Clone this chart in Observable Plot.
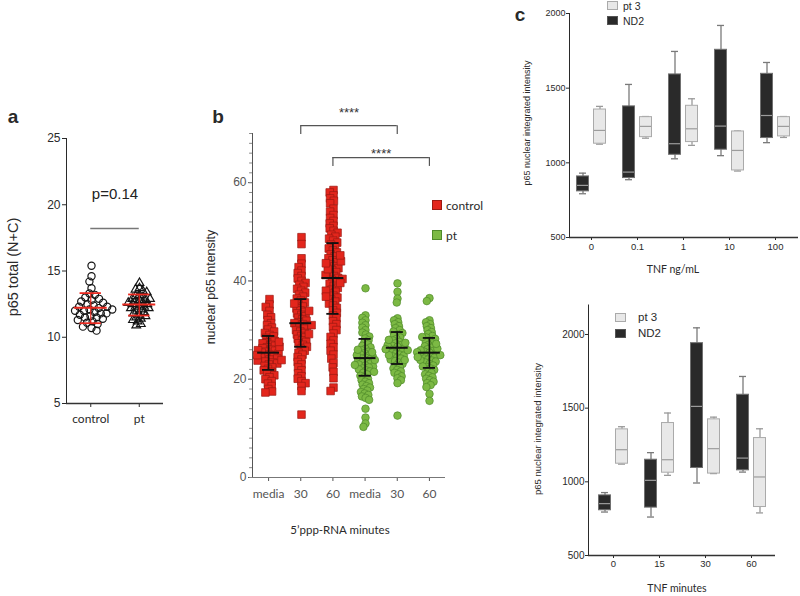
<!DOCTYPE html>
<html>
<head>
<meta charset="utf-8">
<script src="https://cdn.jsdelivr.net/npm/d3@7"></script>
<script src="https://cdn.jsdelivr.net/npm/@observablehq/plot@0.6"></script>
<style>
  html, body { margin: 0; padding: 0; background: #fff; overflow: hidden; }
  #fig { position: relative; width: 800px; height: 596px; overflow: hidden; background: #fff; }
  #fig svg { position: absolute; left: 0; top: 0; }
  .lbl { position: absolute; white-space: nowrap; line-height: 1; color: #2a2a2a;
         font-family: 'Liberation Sans', Arial, sans-serif; transform: translate(-50%, -50%); }
  .lbl.rot { transform: translate(-50%, -50%) rotate(-90deg); }
  .lbl.left { transform: translate(0, -50%); }
  .sw { position: absolute; box-sizing: border-box; }
  svg.cal g[aria-label^="x-axis"] text { font-family: Lato, 'Open Sans', sans-serif; }
  svg.cx g[aria-label^="x-axis"] text { font-size: 9.5px; }
</style>
</head>
<body>
<div id="fig"></div>
<script>
// ================= DATA =================
// Panel a
const aGroups = ["control", "pt"];
const aControl = [15.4, 14.6, 14.2, 13.7, 13.3, 13.2, 13.0, 12.9, 12.8, 12.7, 12.6, 12.5, 12.4, 12.3, 12.3, 12.2, 12.1, 12.0, 12.0, 11.9, 11.8, 11.8, 11.7, 11.6, 11.5, 11.5, 11.4, 11.3, 11.2, 11.1, 11.0, 10.8, 10.7, 10.5, 12.1];
const aPt = [14.1, 13.7, 13.6, 13.5, 13.4, 13.2, 13.1, 13.0, 12.9, 12.8, 12.8, 12.7, 12.6, 12.5, 12.5, 12.4, 12.3, 12.3, 12.2, 12.1, 12.0, 11.9, 11.8, 11.7, 11.6, 11.5, 11.4, 11.3, 11.2, 11.0, 10.9, 12.6, 12.9, 12.2];
const aMean = [12.22, 12.47];
const aSdLow = [11.06, 11.64];
const aSdHigh = [13.33, 13.23];
const aYDomain = [5, 25];
const aYTicks = [5, 10, 15, 20, 25];
const aPLabel = ["p=0.14"];
const aPLineY = [18.2];
const aPTextY = [20.8];

// Panel b
const bGroups = ["c-media", "c-30", "c-60", "p-media", "p-30", "p-60"];
const bLabels = ["media", "30", "60", "media", "30", "60"];
const bSeries = ["control", "control", "control", "pt", "pt", "pt"];
const bCMedia = [36.3, 35.2, 34.7, 33.9, 33.1, 32.6, 32.0, 31.4, 31.0, 30.5, 30.1, 29.7, 29.4, 29.0, 28.7, 28.4, 28.1, 27.8, 27.5, 27.3, 27.0, 26.8, 26.5, 26.3, 26.0, 25.8, 25.6, 25.4, 25.2, 25.0, 24.8, 24.6, 24.4, 24.2, 24.0, 23.8, 23.6, 23.4, 23.2, 23.0, 22.7, 22.4, 22.1, 21.8, 21.5, 21.2, 20.8, 20.4, 20.0, 19.6, 19.1, 18.6, 18.0, 17.5, 17.3, 25.9, 24.9, 26.6, 23.9, 27.6];
const bC30 = [48.9, 47.5, 44.6, 43.5, 42.8, 42.1, 41.6, 41.0, 40.5, 40.0, 39.6, 39.2, 38.8, 38.4, 38.0, 37.6, 37.2, 36.8, 36.4, 36.0, 35.6, 35.2, 34.8, 34.4, 34.0, 33.7, 33.4, 33.1, 32.8, 32.5, 32.2, 31.9, 31.6, 31.4, 31.2, 30.9, 30.6, 30.3, 30.0, 29.7, 29.4, 29.1, 28.8, 28.5, 28.2, 27.9, 27.6, 27.3, 27.0, 26.6, 26.2, 25.8, 25.4, 25.0, 24.5, 24.0, 23.5, 23.0, 22.4, 21.8, 21.2, 20.6, 20.1, 19.6, 19.2, 18.6, 17.6, 12.8, 33.9, 31.0, 29.2, 35.4];
const bC60 = [58.5, 58.0, 57.4, 56.8, 56.3, 55.8, 54.7, 54.1, 53.4, 52.8, 52.2, 51.7, 51.2, 50.7, 50.2, 49.8, 49.4, 49.0, 48.6, 48.2, 47.8, 47.4, 47.0, 46.6, 46.2, 45.8, 45.4, 45.0, 44.6, 44.2, 43.8, 43.4, 43.0, 42.6, 42.2, 41.8, 41.4, 41.0, 40.6, 40.2, 39.8, 39.4, 39.0, 38.6, 38.2, 37.8, 37.4, 37.0, 36.6, 36.2, 35.8, 35.4, 35.0, 34.5, 34.0, 33.5, 33.0, 32.4, 31.8, 31.2, 30.6, 30.0, 29.3, 28.6, 27.9, 27.2, 26.5, 25.8, 25.0, 24.2, 23.3, 22.4, 21.5, 20.2, 18.3, 17.6, 44.0, 41.2, 40.4, 39.6, 38.0, 42.4, 45.2, 36.8, 43.6];
const bPMedia = [38.5, 33.0, 32.5, 32.0, 31.5, 31.0, 30.5, 30.0, 29.5, 29.1, 28.7, 28.3, 27.9, 27.5, 27.1, 26.8, 26.5, 26.2, 25.9, 25.6, 25.3, 25.0, 24.8, 24.6, 24.4, 24.2, 24.0, 23.8, 23.6, 23.4, 23.2, 23.0, 22.8, 22.6, 22.4, 22.2, 22.0, 21.8, 21.6, 21.3, 21.0, 20.7, 20.4, 20.1, 19.8, 19.5, 19.2, 18.9, 18.6, 18.3, 18.0, 17.7, 17.4, 17.1, 16.8, 16.5, 16.2, 15.8, 14.0, 12.2, 11.0, 10.3, 24.9, 23.9, 25.5, 22.9, 26.0, 21.5];
const bP30 = [39.5, 37.8, 36.4, 35.6, 32.4, 32.0, 31.6, 31.2, 30.8, 30.4, 30.0, 29.7, 29.4, 29.1, 28.8, 28.5, 28.2, 27.9, 27.6, 27.3, 27.0, 26.8, 26.6, 26.4, 26.2, 26.0, 25.8, 25.6, 25.4, 25.2, 25.0, 24.8, 24.6, 24.4, 24.2, 24.0, 23.7, 23.4, 23.1, 22.8, 22.5, 22.2, 21.9, 21.6, 21.3, 21.0, 20.6, 20.2, 19.8, 19.2, 12.6, 26.9, 25.9, 27.4, 24.9, 28.0, 23.9, 26.1];
const bP60 = [36.5, 35.9, 32.0, 31.6, 31.2, 30.8, 30.4, 30.0, 29.6, 29.2, 28.8, 28.5, 28.2, 27.9, 27.6, 27.3, 27.0, 26.7, 26.4, 26.1, 25.8, 25.6, 25.4, 25.2, 25.0, 24.8, 24.6, 24.4, 24.2, 24.0, 23.8, 23.6, 23.4, 23.1, 22.8, 22.5, 22.2, 21.9, 21.6, 21.3, 21.0, 20.7, 20.4, 20.1, 19.8, 19.5, 19.2, 18.8, 18.4, 17.0, 15.6, 25.9, 24.9, 26.2, 23.9, 27.2, 22.6, 25.5, 24.5, 28.6];
const bMean = [25.4, 31.4, 40.6, 24.3, 26.4, 25.4];
const bSdLow = [21.9, 26.6, 33.3, 20.7, 23.1, 22.3];
const bSdHigh = [28.8, 36.3, 47.7, 28.2, 29.6, 28.4];
const bYDomain = [0, 70];
const bYTicks = [0, 20, 40, 60];
const bMinorTicks = [0, 2, 4, 6, 8, 10, 12, 14, 16, 18, 20, 22, 24, 26, 28, 30, 32, 34, 36, 38, 40, 42, 44, 46, 48, 50, 52, 54, 56, 58, 60, 62, 64, 66, 68, 70];
const bBracketFrom = [1, 2];
const bBracketTo = [4, 5];
const bBracketY = [71.6, 65.1];
const bBracketDrop = [69.8, 63.3];
const bStarsY = [74.3, 65.8];
const bStars = ["****", "****"];
const bLegend = ["control", "pt"];

// Panel c  (each row: min, q1, median, q3, max)
const cSeries = ["pt 3", "ND2"];
const cTopCats = ["0", "0.1", "1", "10", "100"];
const cTopND2 = [[793, 809, 849, 909, 931], [887, 898, 938, 1378, 1525], [1027, 1054, 1128, 1592, 1746], [1048, 1088, 1246, 1757, 1920], [1135, 1166, 1317, 1596, 1672]];
const cTopPt3 = [[1125, 1128, 1217, 1357, 1378], [1165, 1172, 1244, 1306, 1310], [1117, 1139, 1228, 1382, 1429], [945, 949, 1083, 1210, 1213], [1170, 1177, 1244, 1306, 1310]];
const cTopYDomain = [500, 2000];
const cBotCats = ["0", "15", "30", "60"];
const cBotND2 = [[795, 807, 852, 908, 927], [761, 825, 1010, 1150, 1198], [992, 1094, 1512, 1941, 2045], [1066, 1078, 1161, 1591, 1715]];
const cBotPt3 = [[1120, 1123, 1218, 1356, 1374], [1044, 1062, 1150, 1399, 1467], [1056, 1056, 1225, 1424, 1439], [789, 829, 1033, 1297, 1360]];
const cBotYDomain = [500, 2200];
const cYTicks = [500, 1000, 1500, 2000];

// ================= STYLE =================
const W = 800, H = 596;
const FONT = "'Liberation Sans', Arial, sans-serif";
const AX = "#333";
const AX_B = "#777";
const RED = "#e3261c", RED_DARK = "#9b1a12";
const GREEN = "#7cb944", GREEN_DARK = "#4f8a2a";
const ERR_RED = "#ea2a20";
const DARK_FILL = "#2a2a2a", DARK_STROKE = "#707070";
const LIGHT_FILL = "#e8e8e8", LIGHT_STROKE = "#aaaaaa";
const MED = "#9c9c9c";
const plain = d => String(d);
const baseStyle = (size, color = "#2a2a2a") => `background: transparent; font-family: ${FONT}; font-size: ${size}px; color: ${color}; overflow: visible;`;

const fig = document.getElementById("fig");
const add = (el) => fig.appendChild(el);

// ================= PANEL A =================
const aM = {marginLeft: 66, marginRight: W - 163, marginTop: 138, marginBottom: H - 403};
const aDots = aGroups.flatMap((g, i) => (i === 0 ? aControl : aPt).map(v => ({g, v})));
const aStats = aGroups.map((g, i) => ({i, mean: aMean[i], lo: aSdLow[i], hi: aSdHigh[i]}));
const aAnno = aPLabel.map((t, k) => ({label: t, from: 0, to: aGroups.length - 1, y: aPLineY[k], ty: aPTextY[k]}));

add(Plot.plot({
  width: W, height: H, ...aM, style: baseStyle(12),
  facet: {data: aDots, x: "g"},
  fx: {domain: aGroups, padding: 0, axis: null, label: null},
  y: {domain: aYDomain, axis: null},
  marks: [
    Plot.dot(aDots, Plot.dodgeX({anchor: "middle", padding: -1.5}, {filter: d => d.g === "control", y: "v", r: 3.6, symbol: "circle", fill: "none", stroke: "#151515", strokeWidth: 1.2})),
    Plot.dot(aDots, Plot.dodgeX({anchor: "middle", padding: -2.2}, {filter: d => d.g === "pt", y: "v", r: 3.2, symbol: "triangle", fill: "none", stroke: "#151515", strokeWidth: 1.2}))
  ]
}));

add(Plot.plot({
  width: W, height: H, ...aM, style: baseStyle(12), className: "cal",
  x: {domain: [-0.5, aGroups.length - 0.5], ticks: d3.range(aGroups.length), tickFormat: i => aGroups[i], tickSize: 4, tickPadding: 7, label: null},
  y: {domain: aYDomain, ticks: aYTicks, tickSize: 4, tickPadding: 2, line: true, label: null},
  marks: [
    Plot.ruleY([aYDomain[0]], {stroke: AX, strokeWidth: 1.4}),
    Plot.ruleX(aStats, {x: "i", y1: "lo", y2: "hi", stroke: ERR_RED, strokeWidth: 1.2}),
    Plot.ruleY(aStats, {y: "mean", x1: d => d.i - 0.34, x2: d => d.i + 0.34, stroke: ERR_RED, strokeWidth: 2}),
    Plot.ruleY(aStats, {y: "lo", x1: d => d.i - 0.22, x2: d => d.i + 0.22, stroke: ERR_RED, strokeWidth: 1.8}),
    Plot.ruleY(aStats, {y: "hi", x1: d => d.i - 0.22, x2: d => d.i + 0.22, stroke: ERR_RED, strokeWidth: 1.8}),
    Plot.ruleY(aAnno, {y: "y", x1: "from", x2: "to", stroke: "#777", strokeWidth: 1.5}),
    Plot.text(aAnno, {x: d => (d.from + d.to) / 2, y: "ty", text: "label", fontSize: 15, fill: "#222"})
  ]
}));

// ================= PANEL B =================
const bM = {marginLeft: 252, marginRight: W - 445, marginTop: 133, marginBottom: H - 477};
const bX = [-0.5, bGroups.length - 0.5];
const bMinorLen = 0.09; // minor tick length, in x units (~3px)
const bValues = [bCMedia, bC30, bC60, bPMedia, bP30, bP60];
const bDots = bGroups.flatMap((g, i) => bValues[i].map(v => ({g, s: bSeries[i], v})));
const bStats = bGroups.map((g, i) => ({i, mean: bMean[i], lo: bSdLow[i], hi: bSdHigh[i]}));
const bBrackets = bBracketFrom.map((f, k) => ({from: f, to: bBracketTo[k], y: bBracketY[k], drop: bBracketDrop[k], ty: bStarsY[k], label: bStars[k]}));

add(Plot.plot({
  width: W, height: H, ...bM, style: baseStyle(12),
  facet: {data: bDots, x: "g"},
  fx: {domain: bGroups, padding: 0, axis: null, label: null},
  y: {domain: bYDomain, axis: null},
  marks: [
    Plot.dot(bDots, Plot.dodgeX({anchor: "middle", padding: -4.1}, {filter: d => d.s === "control", y: "v", r: 4.3, symbol: "square", fill: RED, stroke: RED_DARK, strokeWidth: 0.7})),
    Plot.dot(bDots, Plot.dodgeX({anchor: "middle", padding: -3.6}, {filter: d => d.s === "pt", y: "v", r: 3.8, symbol: "circle", fill: GREEN, stroke: GREEN_DARK, strokeWidth: 0.7}))
  ]
}));

add(Plot.plot({
  width: W, height: H, ...bM, style: baseStyle(12, "#555"), className: "cal",
  x: {domain: bX, ticks: d3.range(bGroups.length), tickFormat: i => bLabels[i], tickSize: 4, tickPadding: 8, label: null},
  y: {domain: bYDomain, ticks: bYTicks, tickSize: 4, tickPadding: 2, line: true, label: null},
  marks: [
    Plot.ruleY([bYDomain[0]], {stroke: AX_B, strokeWidth: 1.2}),
    Plot.ruleY(bMinorTicks, {y: d => d, x1: bX[0] - bMinorLen, x2: bX[0], stroke: "#888", strokeWidth: 1}),
    Plot.ruleX(bStats, {x: "i", y1: "lo", y2: "hi", stroke: "#111", strokeWidth: 1.6}),
    Plot.ruleY(bStats, {y: "mean", x1: d => d.i - 0.34, x2: d => d.i + 0.34, stroke: "#111", strokeWidth: 2}),
    Plot.ruleY(bStats, {y: "lo", x1: d => d.i - 0.19, x2: d => d.i + 0.19, stroke: "#111", strokeWidth: 1.8}),
    Plot.ruleY(bStats, {y: "hi", x1: d => d.i - 0.19, x2: d => d.i + 0.19, stroke: "#111", strokeWidth: 1.8}),
    Plot.ruleY(bBrackets, {y: "y", x1: "from", x2: "to", stroke: "#555", strokeWidth: 1.2}),
    Plot.ruleX(bBrackets, {x: "from", y1: "drop", y2: "y", stroke: "#555", strokeWidth: 1.2}),
    Plot.ruleX(bBrackets, {x: "to", y1: "drop", y2: "y", stroke: "#555", strokeWidth: 1.2}),
    Plot.text(bBrackets, {x: d => (d.from + d.to) / 2, y: "ty", text: "label", fontSize: 13, fill: "#333"})
  ]
}));

// ================= PANEL C =================
const cRows = (cats, stats) => cats.map((c, i) => ({c, min: stats[i][0], q1: stats[i][1], med: stats[i][2], q3: stats[i][3], max: stats[i][4]}));
function boxMarks(rows, dx, fill, stroke, whisker) {
  return [
    Plot.ruleX(rows, {x: "c", y1: "min", y2: "q1", dx, stroke: whisker, strokeWidth: 1.3}),
    Plot.ruleX(rows, {x: "c", y1: "q3", y2: "max", dx, stroke: whisker, strokeWidth: 1.3}),
    Plot.tickY(rows, {x: "c", y: "min", dx, stroke: whisker, strokeWidth: 1.3, insetLeft: 2.5, insetRight: 2.5}),
    Plot.tickY(rows, {x: "c", y: "max", dx, stroke: whisker, strokeWidth: 1.3, insetLeft: 2.5, insetRight: 2.5}),
    Plot.barY(rows, {x: "c", y1: "q1", y2: "q3", dx, fill, stroke, strokeWidth: 1}),
    Plot.tickY(rows, {x: "c", y: "med", dx, stroke: MED, strokeWidth: 1.2, insetLeft: 0.5, insetRight: 0.5})
  ];
}

add(Plot.plot({
  width: W, height: H, marginLeft: 569, marginRight: W - 798, marginTop: 13, marginBottom: H - 237,
  style: baseStyle(9), className: "cx",
  x: {domain: cTopCats, paddingInner: 0.739, paddingOuter: 0.358, tickSize: 3, tickPadding: 3, label: null},
  y: {domain: cTopYDomain, ticks: cYTicks, tickFormat: plain, tickSize: 3, tickPadding: 1, line: true, label: null},
  marks: [
    Plot.ruleY([cTopYDomain[0]], {stroke: AX, strokeWidth: 1.3}),
    ...boxMarks(cRows(cTopCats, cTopND2), -8.5, DARK_FILL, DARK_STROKE, "#7a7a7a"),
    ...boxMarks(cRows(cTopCats, cTopPt3), 8.5, LIGHT_FILL, LIGHT_STROKE, "#9a9a9a")
  ]
}));

add(Plot.plot({
  width: W, height: H, marginLeft: 588, marginRight: W - 775, marginTop: 304.5, marginBottom: H - 555,
  style: baseStyle(10), className: "cx",
  x: {domain: cBotCats, paddingInner: 0.745, paddingOuter: 0.362, tickSize: 3, tickPadding: 2, label: null},
  y: {domain: cBotYDomain, ticks: cYTicks, tickFormat: plain, tickSize: 3, tickPadding: 1, line: true, label: null},
  marks: [
    Plot.ruleY([cBotYDomain[0]], {stroke: AX, strokeWidth: 1.3}),
    ...boxMarks(cRows(cBotCats, cBotND2), -8.5, DARK_FILL, DARK_STROKE, "#7a7a7a"),
    ...boxMarks(cRows(cBotCats, cBotPt3), 8.5, LIGHT_FILL, LIGHT_STROKE, "#9a9a9a")
  ]
}));

// ================= TEXT LABELS, LEGENDS =================
function label(text, x, y, size, opts = {}) {
  const d = document.createElement("div");
  d.className = "lbl" + (opts.rot ? " rot" : "") + (opts.left ? " left" : "");
  d.textContent = text;
  d.style.left = x + "px";
  d.style.top = y + "px";
  d.style.fontSize = size + "px";
  if (opts.bold) d.style.fontWeight = "bold";
  if (opts.family) d.style.fontFamily = opts.family;
  add(d);
}
function swatch(x, y, w, h, fill, stroke) {
  const d = document.createElement("div");
  d.className = "sw";
  Object.assign(d.style, {left: x + "px", top: y + "px", width: w + "px", height: h + "px", background: fill, border: "1px solid " + stroke});
  add(d);
}
const CAL = "Lato, 'Open Sans', sans-serif";

label("a", 13, 115.5, 19, {bold: true, family: "Arial, 'Liberation Sans', sans-serif"});
label("b", 218, 116, 19, {bold: true, family: "Arial, 'Liberation Sans', sans-serif"});
label("c", 520, 13.5, 19, {bold: true, family: "Arial, 'Liberation Sans', sans-serif"});

label("p65 total (N+C)", 12.5, 267, 14.5, {rot: true});
label("nuclear p65 intensity", 211, 287, 12.5, {rot: true});
label("5\u2019ppp-RNA minutes", 340, 530, 11.5, {family: CAL});

// legend b
swatch(432, 200, 10, 10, RED, RED_DARK);
label(bLegend[0], 446, 205.5, 12, {left: true, family: CAL});
swatch(432, 230, 10, 10, GREEN, GREEN_DARK);
label(bLegend[1], 446, 235.5, 12, {left: true, family: CAL});

// panel c titles
label("p65 nuclear integrated intensity", 527, 123, 9, {rot: true});
label("TNF ng/mL", 673, 269, 10.5, {family: CAL});
label("p65 nuclear integrated intensity", 538, 429, 9.5, {rot: true});
label("TNF minutes", 677, 588, 10.5, {family: CAL});

// legends c
swatch(607, 1, 11, 9, LIGHT_FILL, LIGHT_STROKE);
label(cSeries[0], 623, 6, 10.5, {left: true});
swatch(607, 16, 11, 9, DARK_FILL, "#555");
label(cSeries[1], 623, 20.5, 10.5, {left: true});
swatch(615, 313, 11, 9, LIGHT_FILL, LIGHT_STROKE);
label(cSeries[0], 638, 318, 11.5, {left: true});
swatch(615, 329, 11, 9, DARK_FILL, "#555");
label(cSeries[1], 638, 333.5, 11.5, {left: true});
</script>
</body>
</html>
